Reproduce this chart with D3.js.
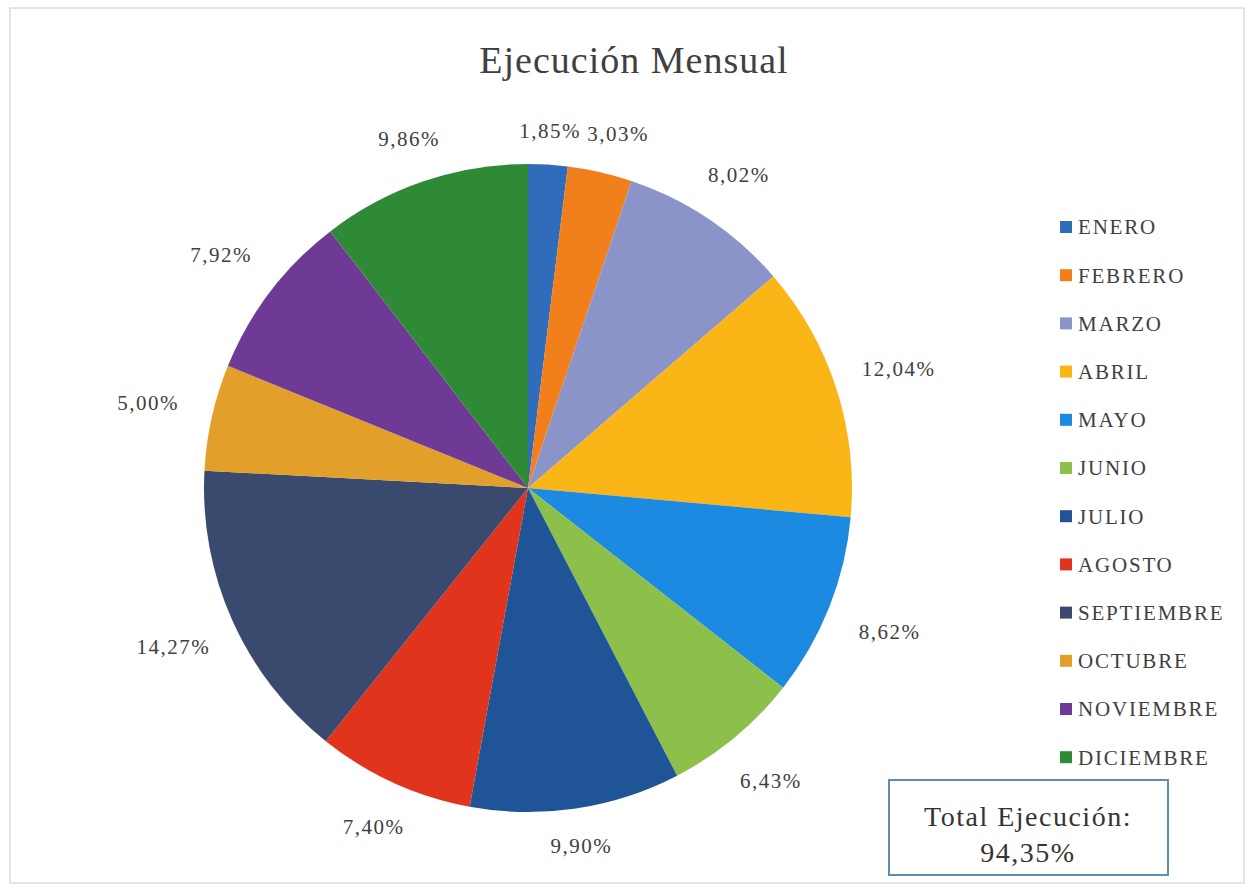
<!DOCTYPE html>
<html>
<head>
<meta charset="utf-8">
<script src="https://cdn.jsdelivr.net/npm/d3@7"></script>
<style>
  body { margin: 0; background: #fff; }
  svg text { font-family: "Palatino Linotype", Palatino, "Book Antiqua", "Liberation Serif", serif; }
</style>
</head>
<body>
<div class="chart"></div>
<script>
// data
var months = ["ENERO", "FEBRERO", "MARZO", "ABRIL", "MAYO", "JUNIO", "JULIO",
              "AGOSTO", "SEPTIEMBRE", "OCTUBRE", "NOVIEMBRE", "DICIEMBRE"];
var values = [1.85, 3.03, 8.02, 12.04, 8.62, 6.43, 9.90, 7.40, 14.27, 5.00, 7.92, 9.86];
var colors = ["#2f6dba", "#f07f1c", "#8a94c8", "#fab516", "#1b8ae0", "#8cc04a",
              "#1f5596", "#e0341d", "#3a4a6e", "#e2a02b", "#6e3a95", "#2e8a34"];
var title = "Ejecución Mensual";
var totalLabel = "Total Ejecución:";
var totalValue = "94,35%";

var width = 1254, height = 889;
var cx = 528, cy = 488, radius = 324;

var svg = d3.select(".chart")
        .append("svg")
        .attr("width", width)
        .attr("height", height);

// faint outer frame
svg.append("rect")
        .attr("x", 10).attr("y", 8)
        .attr("width", width - 20).attr("height", height - 14)
        .attr("fill", "none")
        .attr("stroke", "#dcdcdc")
        .attr("stroke-width", 1.5);

svg.append("text")
        .attr("x", 634)
        .attr("y", 73)
        .attr("text-anchor", "middle")
        .attr("font-size", 38)
        .attr("letter-spacing", 1)
        .attr("fill", "#404040")
        .text(title);

var data = months.map(function(m, i) {
  return {name: m, value: values[i], color: colors[i]};
});

var pie = d3.pie()
        .sort(null)
        .value(function(d) { return d.value; });

var arc = d3.arc()
        .innerRadius(0)
        .outerRadius(radius);

var g = svg.append("g")
        .attr("transform", "translate(" + cx + "," + cy + ")");

var arcs = pie(data);

g.selectAll("path")
        .data(arcs)
        .enter()
        .append("path")
        .attr("d", arc)
        .attr("fill", function(d) { return d.data.color; });

// outside-end labels
function labelPos(a) {
  var r = radius + 20 + 44 * Math.abs(Math.sin(a)) + 11 * Math.abs(Math.cos(a));
  return [r * Math.sin(a), -r * Math.cos(a)];
}

var labels = g.selectAll("text.lbl")
        .data(arcs)
        .enter()
        .append("text")
        .attr("class", "lbl")
        .attr("text-anchor", "middle")
        .attr("dy", ".35em")
        .attr("font-size", 21)
        .attr("letter-spacing", 1.5)
        .attr("fill", "#404040")
        .text(function(d) { return d.data.value.toFixed(2).replace(".", ",") + "%"; });

// nudge labels along the circle so neighbours don't collide
var boxes = [];
labels.each(function(d, i) {
  var w = this.getComputedTextLength(), h = 22;
  var a = (d.startAngle + d.endAngle) / 2;
  var p = labelPos(a);
  if (i > 0) {
    var prev = boxes[i - 1];
    while (Math.abs(p[0] - prev.x) < (w + prev.w) / 2 + 6 && Math.abs(p[1] - prev.y) < (h + prev.h) / 2) {
      a += 0.005;
      p = labelPos(a);
    }
  }
  boxes.push({x: p[0], y: p[1], w: w, h: h});
  d3.select(this).attr("transform", "translate(" + p[0] + "," + p[1] + ")");
});

// legend
var legend = svg.append("g")
        .attr("transform", "translate(1060,227)");

var item = legend.selectAll("g")
        .data(data)
        .enter()
        .append("g")
        .attr("transform", function(d, i) { return "translate(0," + (i * 48.2) + ")"; });

item.append("rect")
        .attr("x", 0).attr("y", -6)
        .attr("width", 12).attr("height", 12)
        .attr("fill", function(d) { return d.color; });

item.append("text")
        .attr("x", 18)
        .attr("dy", ".35em")
        .attr("font-size", 21)
        .attr("letter-spacing", 1.8)
        .attr("fill", "#404040")
        .text(function(d) { return d.name; });

// total box
svg.append("rect")
        .attr("x", 889).attr("y", 780)
        .attr("width", 279).attr("height", 95)
        .attr("fill", "#fff")
        .attr("stroke", "#5f8bb5")
        .attr("stroke-width", 2);

svg.append("text")
        .attr("x", 1028).attr("y", 826)
        .attr("text-anchor", "middle")
        .attr("font-size", 28)
        .attr("letter-spacing", 1.5)
        .attr("fill", "#333")
        .text(totalLabel);

svg.append("text")
        .attr("x", 1028).attr("y", 862)
        .attr("text-anchor", "middle")
        .attr("font-size", 28)
        .attr("letter-spacing", 1.5)
        .attr("fill", "#333")
        .text(totalValue);
</script>
</body>
</html>
